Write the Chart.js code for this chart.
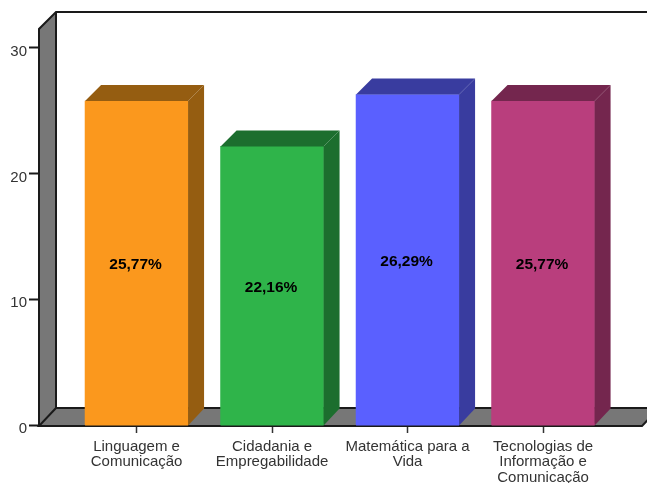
<!DOCTYPE html>
<html>
<head>
<meta charset="utf-8">
<style>
  body { margin: 0; background: #fff; }
  canvas { display: block; }
</style>
<script src="https://cdn.jsdelivr.net/npm/chart.js@4"></script>
</head>
<body>
<canvas id="chart" width="647" height="483"></canvas>
<script>
const categories = [
  ["Linguagem e", "Comunicação"],
  ["Cidadania e", "Empregabilidade"],
  ["Matemática para a", "Vida"],
  ["Tecnologias de", "Informação e", "Comunicação"]
]
const percents = [25.77, 22.16, 26.29, 25.77]
const percentLabels = ["25,77%", "22,16%", "26,29%", "25,77%"]
const frontColors = ["#fb981d", "#2fb44a", "#5a60ff", "#b93e7d"]
const sideColors = ["#955d11", "#1c6e2e", "#393c9f", "#74264e"]

const barDepth = 16
const wallDepth = 17

function poly(ctx, pts, fill) {
  ctx.beginPath()
  pts.forEach((p, i) => i ? ctx.lineTo(p[0], p[1]) : ctx.moveTo(p[0], p[1]))
  ctx.closePath()
  ctx.fillStyle = fill
  ctx.fill()
}

// gray left wall and floor, with the dark outline
const walls = {
  id: "walls",
  beforeDatasetsDraw(chart) {
    const { ctx, chartArea: a } = chart
    const d = wallDepth
    ctx.save()
    poly(ctx, [[a.left, a.top], [a.left + d, a.top - d], [a.left + d, a.bottom - d], [a.left, a.bottom]], "#777777")
    poly(ctx, [[a.left, a.bottom], [a.left + d, a.bottom - d], [a.right + d, a.bottom - d], [a.right, a.bottom]], "#777777")
    ctx.strokeStyle = "#1a1a1a"
    ctx.lineWidth = 2
    ctx.beginPath()
    ctx.moveTo(a.left, a.bottom + 1)
    ctx.lineTo(a.left, a.top)
    ctx.lineTo(a.left + d, a.top - d)
    ctx.lineTo(647, a.top - d)
    ctx.moveTo(a.left + d, a.top - d)
    ctx.lineTo(a.left + d, a.bottom - d)
    ctx.lineTo(647, a.bottom - d)
    ctx.moveTo(a.left + d, a.bottom - d)
    ctx.lineTo(a.left, a.bottom + 1)
    ctx.lineTo(a.right, a.bottom + 1)
    ctx.lineTo(a.right + d, a.bottom - d)
    ctx.stroke()
    ctx.restore()
  }
}

// top and side of each bar, then the value in the middle
const bars3d = {
  id: "bars3d",
  afterDatasetsDraw(chart) {
    const { ctx } = chart
    const d = barDepth
    ctx.save()
    chart.getDatasetMeta(0).data.forEach((bar, i) => {
      const l = bar.x - bar.width / 2
      const r = bar.x + bar.width / 2
      poly(ctx, [[l, bar.y], [l + d, bar.y - d], [r + d, bar.y - d], [r, bar.y]], sideColors[i])
      poly(ctx, [[r, bar.y], [r + d, bar.y - d], [r + d, bar.base - d], [r, bar.base + 1]], sideColors[i])
      ctx.fillStyle = frontColors[i]
      ctx.fillRect(l, bar.base - 1, bar.width, 2)
      ctx.fillStyle = "#000"
      ctx.font = "bold 15.5px 'Liberation Sans', Arial, sans-serif"
      ctx.textAlign = "center"
      ctx.textBaseline = "middle"
      ctx.fillText(percentLabels[i], bar.x - 1, (bar.y + bar.base) / 2 + 2)
    })
    ctx.restore()
  }
}

new Chart(document.getElementById("chart"), {
  type: "bar",
  data: {
    datasets: [{
      data: percents.map((v, i) => ({ x: i, y: v })),
      backgroundColor: frontColors,
      borderWidth: 0,
      barThickness: 103
    }]
  },
  options: {
    responsive: false,
    animation: false,
    layout: { padding: { top: 29, right: 5, left: 0, bottom: 0 } },
    plugins: { legend: { display: false }, tooltip: { enabled: false } },
    scales: {
      x: {
        type: "linear",
        offset: false,
        min: -0.72,
        max: 3.73,
        afterFit(scale) { scale.height = 58 },
        grid: { offset: false, drawOnChartArea: false, drawTicks: true, tickLength: 8, tickColor: "#333", tickWidth: 1.5 },
        border: { display: false },
        ticks: {
          stepSize: 1,
          includeBounds: false,
          maxRotation: 0,
          autoSkip: false,
          padding: 6,
          color: "#333",
          font: { family: "'Liberation Sans', Arial, sans-serif", size: 15, lineHeight: 1.03 },
          callback: v => categories[v]
        }
      },
      y: {
        min: 0,
        max: 31.5,
        afterFit(scale) { scale.width = 39 },
        grid: { drawOnChartArea: false, tickLength: 10, tickColor: "#1a1a1a", tickWidth: 2 },
        border: { display: false },
        ticks: {
          stepSize: 10,
          includeBounds: false,
          padding: 2,
          labelOffset: 4,
          color: "#333",
          font: { family: "'Liberation Sans', Arial, sans-serif", size: 15 }
        }
      }
    }
  },
  plugins: [walls, bars3d]
})
</script>
</body>
</html>
